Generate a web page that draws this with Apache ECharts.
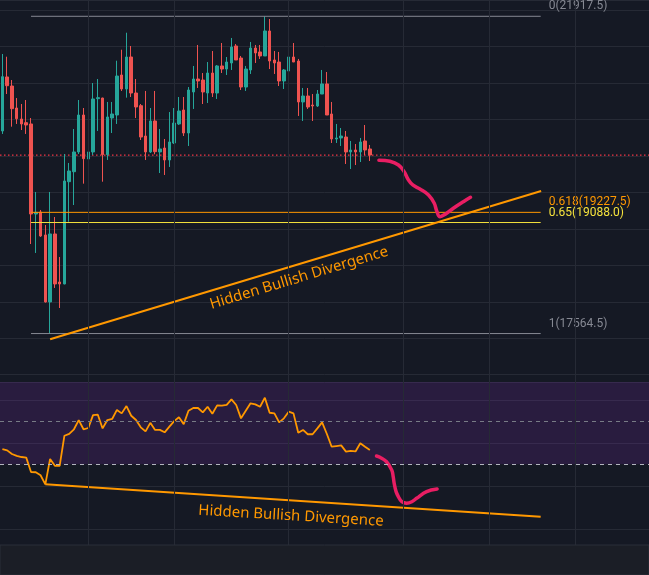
<!DOCTYPE html>
<html>
<head>
<meta charset="utf-8">
<script src="https://cdn.jsdelivr.net/npm/echarts@6/dist/echarts.min.js"></script>
<style>
  html, body { margin: 0; padding: 0; background: #151924; }
  #chart { width: 649px; height: 575px; }
</style>
</head>
<body>
<div id="chart"></div>
<script>
// candles, one per slot (slot 0 = left edge)
var opens  = [20344,21085,20961,20659,20508,20458,20440,19205,19232,18917,17998,18931,18272,18245,19648,19785,20056,20563,19960,20056,
              20787,20796,20019,20522,20563,21112,20920,21359,20865,20691,20275,20056,20481,20056,20110,19946,20179,20440,20632,20316,
              20879,21057,21043,20865,21139,20865,21236,21194,21277,21510,21345,20947,21181,21482,21428,21373,21716,21318,21290,21030,
              21167,21359,21304,20742,20824,20700,20687,20851,20989,20577,20234,20248,20261,20056,20083,20056,20207,20097];
var closes = [21089,20965,20650,20512,20440,20426,19205,19228,18903,17998,18931,18245,18245,19658,19795,20056,20563,19964,20056,20783,
              20801,20019,20536,20577,21098,20920,21359,20865,20673,20261,20056,20481,20060,20097,19946,20193,20453,20618,20316,20906,
              21057,21030,20879,21139,20865,21236,21194,21290,21496,21318,20947,21194,21482,21414,21373,21716,21304,21277,21030,21181,
              21359,21290,20742,20824,20673,20687,20851,20989,20563,20234,20248,20275,20056,20083,20056,20193,20083,20014];
var lows   = [20303,20851,20403,20440,20357,20303,18793,18670,18890,17990,17564.5,18190,17915,18240,19099,19328,20028,19621,19758,20014,
              20344,19648,19946,20316,20440,20893,20801,20810,20522,20220,19946,20042,20024,19767,19740,19850,20165,20426,20275,20138,
              20646,20934,20714,20728,20810,20783,21139,21112,21181,21318,20906,20893,21126,21277,21332,21373,21194,21126,20961,20920,
              21153,21290,20550,20481,20646,20481,20673,20851,20563,20179,20179,20138,19891,19822,19877,19918,20014,19932];
var highs  = [21400,21363,21043,20796,20714,20769,20522,19507,19260,19054,19507,19164,18615,20028,19905,20371,20769,20659,20234,21002,
              21057,20800,20742,20742,21308,21459,21692,21510,21057,20714,20893,20659,20893,20371,20234,20604,20659,20810,20810,20947,
              21236,21524,21139,21290,21441,21249,21551,21359,21620,21537,21373,21236,21565,21524,21524,21917.5,21880,21441,21428,21194,
              21386,21551,21332,20934,20934,20851,20906,21181,21153,20742,20440,20385,20344,20207,20165,20248,20426,20152];

// RSI (14), one value per candle
var rsi = [37.1,36.5,34.8,33.9,33.4,33.1,26.4,26.3,24.9,20.7,32.5,29.3,29.3,43.3,44.2,46.3,50.6,46.3,46.9,52.9,
           53.1,46.7,50.6,51.1,55.3,53.7,57.1,52.6,50.6,47.2,45.3,49.3,46.0,46.0,44.9,47.5,50.1,51.9,48.7,54.9,
           56.2,56.2,54.2,56.8,53.5,57.4,57.3,57.7,60.2,57.6,51.4,54.9,58.4,57.9,56.8,61.0,54.0,53.7,49.5,51.4,
           54.5,53.7,44.7,46.0,44.0,44.0,46.7,49.5,44.1,38.2,38.5,38.8,35.9,36.3,36.0,39.8,38.2,36.7];

var slotCount = 136;
var timeGridSlots = [18, 36, 60, 84, 102, 120];
var rsiBand = [30, 70];
var rsiMid = 50;
var rsiTop = 68.3;

// fibonacci retracement
var fibRatios = ['0', '0.618', '0.65', '1'];
var fibPrices = [21917.5, 19227.5, 19088.0, 17564.5];
var fibColors = ['#868993', '#ff9800', '#f5e23c', '#868993'];
var fibFrom = 6, fibTo = 112.8;

// drawn lines [slot, value]
var priceTrend = [[10, 17486], [112.9, 19520]];
var rsiTrend = [[9, 20.7], [112.8, 5.6]];
var pricePath = [[78.9, 19942], [81.2, 19928], [83.0, 19877], [84.2, 19785], [85.1, 19671], [86.0, 19603], [87.5, 19548],
                 [89.3, 19466], [90.5, 19352], [91.0, 19250], [91.7, 19168], [92.8, 19201], [94.5, 19283], [96.6, 19374], [98.1, 19434]];
var rsiPath = [[78.4, 33.9], [79.1, 33.3], [80.5, 31.2], [81.6, 27.3], [81.9, 24.2], [82.1, 21.2], [82.5, 17.3], [83.0, 14.9],
               [83.7, 12.6], [84.7, 11.9], [85.8, 12.6], [86.8, 14.2], [88.9, 17.3], [91.1, 18.5]];

var dom = document.getElementById('chart');
var myChart = echarts.init(dom, null, { renderer: 'canvas' });

var up = '#26a69a', down = '#ef5350', orange = '#ff9800', pink = '#e91e63';
var gridColor = '#262a35';
var labelFont = 'Roboto';

var slots = [];
for (var i = 0; i < slotCount; i++) slots.push(String(i));

var candleData = opens.map(function (o, i) {
    return [o, closes[i], lows[i], highs[i]];
});
var lastClose = closes[closes.length - 1];

var series = [];

// vertical time grid lines over both panes
series.push({
    type: 'line', xAxisIndex: 3, yAxisIndex: 2, data: [], z: 0, silent: true,
    markLine: {
        symbol: 'none', silent: true, animation: false,
        label: { show: false },
        lineStyle: { color: gridColor, type: 'solid', width: 1 },
        data: timeGridSlots.map(function (s) { return { xAxis: s }; })
    }
});

// last price line
series.push({
    type: 'line', xAxisIndex: 1, yAxisIndex: 0, symbol: 'none', silent: true, z: 1,
    data: [[-0.5, lastClose], [slotCount - 0.5, lastClose]],
    lineStyle: { color: '#f23645', type: [1.5, 2.5], width: 1.3 }
});

series.push({
    type: 'candlestick', xAxisIndex: 0, yAxisIndex: 0,
    data: candleData, barWidth: 3,
    itemStyle: { color: up, color0: down, borderColor: up, borderColor0: down, borderWidth: 1 }
});

fibPrices.forEach(function (p, k) {
    series.push({
        type: 'line', xAxisIndex: 1, yAxisIndex: 0, symbol: 'none', silent: true,
        data: [[fibFrom, p], [fibTo, p]],
        lineStyle: { color: fibColors[k], width: 1 },
        endLabel: {
            show: true, distance: 8, offset: [0, -10],
            color: fibColors[k], fontSize: 12, fontFamily: labelFont,
            formatter: fibRatios[k] + '(' + p.toFixed(1) + ')'
        }
    });
});

series.push({
    type: 'line', xAxisIndex: 1, yAxisIndex: 0, symbol: 'none', silent: true,
    data: priceTrend, lineStyle: { color: orange, width: 2 }
});

series.push({
    type: 'line', xAxisIndex: 1, yAxisIndex: 0, symbol: 'none', silent: true, smooth: 0.4,
    data: pricePath, lineStyle: { color: pink, width: 3.5, cap: 'round', join: 'round' }
});

// RSI pane
series.push({
    type: 'line', xAxisIndex: 2, yAxisIndex: 1, symbol: 'none', silent: true,
    data: rsi.map(function (v, i) { return [i, v]; }),
    lineStyle: { color: orange, width: 1.8 },
    markArea: {
        silent: true,
        itemStyle: { color: 'rgba(140,50,200,0.17)' },
        data: [[{ yAxis: rsiBand[0] }, { yAxis: Math.min(rsiBand[1], rsiTop) }]]
    },
    markLine: {
        symbol: 'none', silent: true, animation: false,
        label: { show: false },
        data: [
            { yAxis: rsiMid, lineStyle: { color: '#787b86', type: [4, 4], width: 1 } },
            { yAxis: rsiBand[0], lineStyle: { color: '#b2b5be', type: [4, 4], width: 1 } }
        ]
    }
});

series.push({
    type: 'line', xAxisIndex: 2, yAxisIndex: 1, symbol: 'none', silent: true,
    data: rsiTrend, lineStyle: { color: orange, width: 2 }
});

series.push({
    type: 'line', xAxisIndex: 2, yAxisIndex: 1, symbol: 'none', silent: true, smooth: 0.4,
    data: rsiPath, lineStyle: { color: pink, width: 3.5, cap: 'round', join: 'round' }
});

option = {
    backgroundColor: '#151924',
    animation: false,
    grid: [
        { left: 0, right: 0, top: 0, height: 374.7 },
        { left: 0, right: 0, top: 382, height: 146.8 },
        { left: 0, right: 0, top: 0, height: 545 }
    ],
    xAxis: [
        { type: 'category', gridIndex: 0, data: slots, boundaryGap: true, show: false },
        { type: 'value', gridIndex: 0, min: -0.5, max: slotCount - 0.5, show: false },
        { type: 'value', gridIndex: 1, min: -0.5, max: slotCount - 0.5, show: false },
        { type: 'value', gridIndex: 2, min: -0.5, max: slotCount - 0.5, show: false }
    ],
    yAxis: [
        {
            type: 'value', gridIndex: 0, min: 17000, max: 22141, interval: 500, position: 'right',
            axisLabel: { show: false }, axisLine: { show: false }, axisTick: { show: false },
            splitLine: { lineStyle: { color: gridColor } }
        },
        {
            type: 'value', gridIndex: 1, min: 0, max: rsiTop, interval: 20, position: 'right',
            axisLabel: { show: false }, axisLine: { show: false }, axisTick: { show: false },
            splitLine: { lineStyle: { color: gridColor } }
        },
        { type: 'value', gridIndex: 2, min: 0, max: 1, show: false }
    ],
    graphic: [
        {
            type: 'rect', z: 100, silent: true,
            shape: { x: 0, y: 545, width: 649, height: 30 },
            style: { fill: '#1b1e26', stroke: '#2a2e39', lineWidth: 1 }
        },
        {
            type: 'text', z: 100, silent: true, x: 299, y: 278, rotation: 0.293,
            style: {
                text: 'Hidden Bullish Divergence', fill: orange, fontSize: 15,
                fontFamily: 'Noto Sans', align: 'center', verticalAlign: 'middle'
            }
        },
        {
            type: 'text', z: 100, silent: true, x: 291, y: 516, rotation: -0.06,
            style: {
                text: 'Hidden Bullish Divergence', fill: orange, fontSize: 15,
                fontFamily: 'Noto Sans', align: 'center', verticalAlign: 'middle'
            }
        }
    ],
    series: series
};

if (option && typeof option === 'object') {
    myChart.setOption(option, true);
}
</script>
</body>
</html>
